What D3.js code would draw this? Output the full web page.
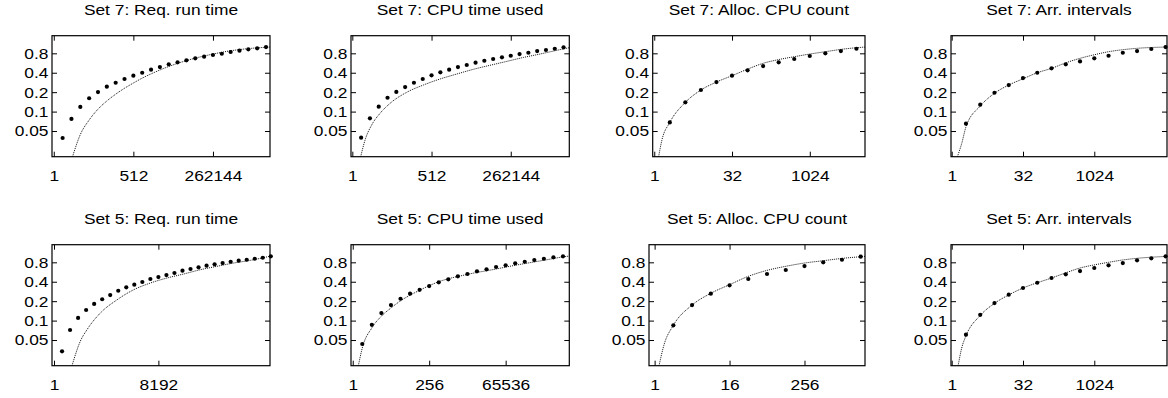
<!DOCTYPE html>
<html>
<head>
<meta charset="utf-8">
<script src="https://cdn.jsdelivr.net/npm/d3@7"></script>
<style>
  body { margin: 0; background: #fff; }
  svg text { font-family: "Liberation Sans", Arial, Helvetica, sans-serif; fill: #000; }
</style>
</head>
<body>
<div id="chart"></div>
<script>
// panel titles, in reading order (row 1 = Set 7, row 2 = Set 5)
const titles = [
  "Set 7: Req. run time", "Set 7: CPU time used", "Set 7: Alloc. CPU count", "Set 7: Arr. intervals",
  "Set 5: Req. run time", "Set 5: CPU time used", "Set 5: Alloc. CPU count", "Set 5: Arr. intervals"
];

const xTickLabels = [
  [1, 512, 262144], [1, 512, 262144], [1, 32, 1024], [1, 32, 1024],
  [1, 8192], [1, 256, 65536], [1, 16, 256], [1, 32, 1024]
];

// x range of each panel, as log2 exponents
const xRangeLog2 = [
  [-0.2, 24.45], [-0.15, 24.65], [-0.1, 13.55], [-0.05, 15.1],
  [-0.25, 26.9], [-0.18, 22.66], [-0.3, 11.23], [-0.05, 15.1]
];

const yRange = [0.02, 1.5];
const yTicks = [0.05, 0.1, 0.2, 0.4, 0.8];

// bin exponents (x = 2^k) of the measured points
const bins24 = [1,2,3,4,5,6,7,8,9,10,11,12,13,14,15,16,17,18,19,20,21,22,23,24];
const bins13 = [1,2,3,4,5,6,7,8,9,10,11,12,13];
const bins15 = [1,2,3,4,5,6,7,8,9,10,11,12,13,14,15];
const bins27 = [1,2,3,4,5,6,7,8,9,10,11,12,13,14,15,16,17,18,19,20,21,22,23,24,25,26,27];
const bins22 = [1,2,3,4,5,6,7,8,9,10,11,12,13,14,15,16,17,18,19,20,21,22];
const bins11 = [1,2,3,4,5,6,7,8,9,10,11];

// measured cumulative fractions
const set7Req = [0.039,0.077,0.118,0.161,0.201,0.243,0.28,0.32,0.36,0.40,0.446,0.49,0.54,0.58,0.623,0.669,0.709,0.753,0.788,0.838,0.878,0.923,0.956,1.0];
const set7Cpu = [0.0394,0.0787,0.119,0.164,0.202,0.24,0.28,0.32,0.365,0.406,0.446,0.49,0.527,0.572,0.614,0.653,0.694,0.734,0.78,0.817,0.868,0.90,0.942,0.99];
const set7Alloc = [0.068,0.139,0.216,0.287,0.36,0.436,0.508,0.58,0.653,0.727,0.80,0.868,0.942];
const set7Arr = [0.065,0.128,0.196,0.258,0.331,0.40,0.468,0.54,0.60,0.669,0.734,0.817,0.868,0.933,1.0];
const set5Req = [0.0334,0.0715,0.11,0.146,0.181,0.214,0.249,0.29,0.328,0.36,0.396,0.441,0.473,0.508,0.546,0.593,0.63,0.669,0.709,0.745,0.78,0.817,0.847,0.877,0.909,0.942,0.99];
const set5Cpu = [0.0434,0.086,0.131,0.174,0.218,0.261,0.30,0.343,0.392,0.436,0.485,0.527,0.58,0.623,0.677,0.719,0.772,0.817,0.868,0.909,0.956,0.99];
const set5Alloc = [0.0845,0.174,0.261,0.352,0.441,0.527,0.608,0.70,0.80,0.877,0.977];
const set5Arr = [0.0604,0.123,0.187,0.252,0.32,0.386,0.457,0.522,0.586,0.653,0.719,0.78,0.859,0.923,0.99];

// fitted model curves, [log2 x, fraction]
const set7ReqFit = [[2.12,0.02],[3,0.044],[4,0.074],[5,0.109],[6,0.146],[7,0.186],[8,0.23],[9,0.277],[10,0.33],[11,0.384],[12,0.441],[13,0.5],[14,0.559],[15,0.616],[16,0.674],[17,0.727],[18,0.779],[19,0.829],[20,0.877],[21,0.914],[22,0.946],[23,0.973],[24.45,1.0]];
const set7CpuFit = [[0.95,0.02],[1.44,0.036],[2.2,0.062],[3.15,0.094],[4.28,0.134],[6.18,0.199],[8.07,0.258],[9.97,0.32],[11.86,0.382],[13.75,0.452],[15.65,0.522],[17.55,0.6],[19.43,0.69],[21.33,0.78],[23.23,0.89],[24.65,0.977]];
const set7AllocFit = [[0.28,0.02],[0.49,0.036],[1,0.068],[2,0.139],[3,0.216],[4,0.287],[5,0.36],[6,0.455],[7,0.56],[8,0.64],[9,0.709],[10,0.78],[11,0.847],[12,0.92],[13,0.977],[13.55,1.0]];
const set7ArrFit = [[0.4,0.02],[0.7,0.032],[1,0.058],[2,0.122],[3,0.192],[4,0.258],[5,0.322],[6,0.4],[7,0.468],[8,0.57],[9,0.669],[10,0.76],[11,0.847],[12,0.91],[13,0.956],[14,0.985],[15.1,1.0]];
const set5ReqFit = [[2.24,0.02],[3.28,0.048],[4.1,0.072],[5.77,0.131],[7.85,0.21],[9.91,0.3],[12,0.382],[14.07,0.457],[16.14,0.527],[18.22,0.614],[20.3,0.694],[22.37,0.78],[24.45,0.859],[26.85,0.99]];
const set5CpuFit = [[0.59,0.02],[1,0.0376],[2,0.077],[3,0.117],[4,0.157],[5,0.202],[7,0.295],[9,0.4],[12,0.52],[15,0.63],[17,0.72],[20,0.86],[22,0.97],[22.66,1.0]];
const set5AllocFit = [[0.235,0.02],[0.5,0.042],[1,0.0845],[2,0.174],[3,0.265],[4,0.36],[5,0.485],[6,0.6],[7,0.694],[8,0.78],[9,0.847],[10,0.92],[11,0.977],[11.23,0.99]];
const set5ArrFit = [[0.45,0.02],[0.7,0.0376],[1,0.058],[2,0.12],[3,0.185],[4,0.25],[5,0.32],[6,0.386],[7,0.457],[8,0.55],[9,0.653],[10,0.73],[11,0.8],[12,0.87],[13,0.923],[14,0.96],[15,0.99],[15.1,0.995]];

const dotBins = [bins24, bins24, bins13, bins15, bins27, bins22, bins11, bins15];
const dotVals = [set7Req, set7Cpu, set7Alloc, set7Arr, set5Req, set5Cpu, set5Alloc, set5Arr];
const fits = [set7ReqFit, set7CpuFit, set7AllocFit, set7ArrFit, set5ReqFit, set5CpuFit, set5AllocFit, set5ArrFit];

// layout
const W = 1168, H = 398;
const colLeft = [[52, 351, 652.7, 951], [52, 351, 649, 951]];
const colRight = [270, 569.3, 865, 1167];
const rowTop = [35.7, 244.7];
const rowBottom = [156.7, 365.7];
const fontSize = 15.5, stretch = 1.12; // glyphs in the original are a bit wide

const svg = d3.select("#chart").append("svg")
  .attr("width", W).attr("height", H);

titles.forEach(function(t, i) {
  const row = Math.floor(i / 4), col = i % 4;
  const left = colLeft[row][col], right = colRight[col];
  const top = rowTop[row], bottom = rowBottom[row];

  const x = d3.scaleLog().base(2)
    .domain([Math.pow(2, xRangeLog2[i][0]), Math.pow(2, xRangeLog2[i][1])])
    .range([left, right]);
  const y = d3.scaleLog().domain(yRange).range([bottom, top]);

  const g = svg.append("g");

  const clipId = "clip" + i;
  g.append("clipPath").attr("id", clipId)
    .append("rect").attr("x", left).attr("y", top)
    .attr("width", right - left).attr("height", bottom - top);

  // fitted curve (dotted)
  const line = d3.line()
    .x(d => x(Math.pow(2, d[0])))
    .y(d => y(d[1]))
    .curve(d3.curveMonotoneX);
  g.append("path")
    .datum(fits[i])
    .attr("d", line)
    .attr("clip-path", "url(#" + clipId + ")")
    .attr("fill", "none")
    .attr("stroke", "#111")
    .attr("stroke-width", 1)
    .attr("stroke-dasharray", "1,1");

  // measured points
  g.selectAll("circle.pt")
    .data(dotVals[i].map((v, k) => [dotBins[i][k], v]))
    .enter().append("circle")
    .attr("class", "pt")
    .attr("cx", d => x(Math.pow(2, d[0])))
    .attr("cy", d => y(d[1]))
    .attr("r", 2.1)
    .attr("fill", "#000");

  // x axis (bottom labels, ticks mirrored on top)
  const xb = d3.axisBottom(x).tickValues(xTickLabels[i])
    .tickSize(-5).tickPadding(13.8).tickFormat(d3.format("d"));
  const gx = g.append("g").attr("transform", "translate(0," + bottom + ")").call(xb);
  const xt = d3.axisTop(x).tickValues(xTickLabels[i]).tickSize(-5).tickFormat("");
  const gxt = g.append("g").attr("transform", "translate(0," + top + ")").call(xt);

  // y axis (left labels, ticks mirrored on right)
  const yl = d3.axisLeft(y).tickValues(yTicks).tickSize(-5).tickPadding(3.2)
    .tickFormat(d3.format("~g"));
  const gy = g.append("g").attr("transform", "translate(" + left + ",0)").call(yl);
  const yr = d3.axisRight(y).tickValues(yTicks).tickSize(-5).tickFormat("");
  const gyr = g.append("g").attr("transform", "translate(" + right + ",0)").call(yr);

  [gx, gxt, gy, gyr].forEach(function(a) {
    a.select(".domain").remove();
    a.selectAll(".tick line").attr("stroke", "#000").attr("stroke-width", 1);
    a.selectAll("text").attr("font-size", fontSize)
      .attr("font-family", "'Liberation Sans', Arial, Helvetica, sans-serif")
      .attr("fill", "#000")
      .attr("transform", "scale(" + stretch + ",1)");
  });

  // frame
  g.append("rect")
    .attr("x", left).attr("y", top)
    .attr("width", right - left).attr("height", bottom - top)
    .attr("fill", "none").attr("stroke", "#000").attr("stroke-width", 1.2);

  // title
  g.append("text")
    .attr("transform", "translate(" + ((left + right) / 2) + "," + (top - 20.3) + ") scale(" + stretch + ",1)")
    .attr("text-anchor", "middle")
    .attr("font-size", fontSize)
    .text(t);
});
</script>
</body>
</html>
